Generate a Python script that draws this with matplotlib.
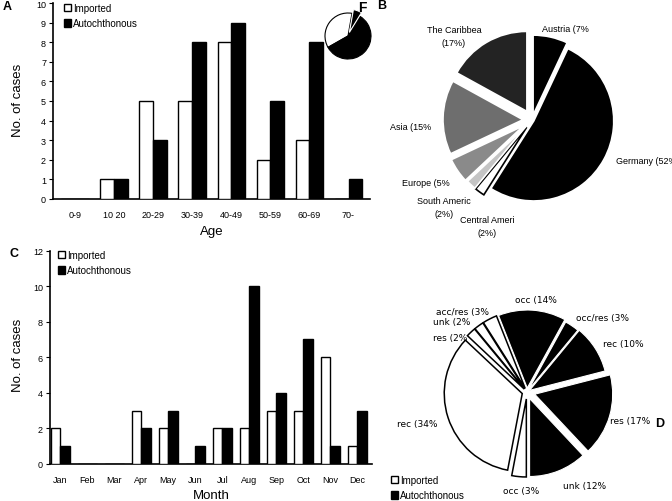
import numpy as np
import matplotlib.pyplot as plt
from matplotlib.patches import Patch

plt.rcParams['font.family'] = ['Liberation Sans', 'DejaVu Sans']

W, H = 672, 502

# panel A: age groups
age_groups = ['0-9', '10 20', '20-29', '30-39', '40-49', '50-59', '60-69', '70-']
age_imported = [0, 1, 5, 5, 8, 2, 3, 0]
age_autoch = [0, 1, 3, 8, 9, 5, 8, 1]

# panel C: months
months = ['Jan', 'Feb', 'Mar', 'Apr', 'May', 'Jun', 'Jul', 'Aug', 'Sep', 'Oct', 'Nov', 'Dec']
month_imported = [2, 0, 0, 3, 2, 0, 2, 2, 3, 3, 6, 1]
month_autoch = [1, 0, 0, 2, 3, 1, 2, 10, 4, 7, 1, 3]

# panel B: origin of infection (clockwise from top)
origin_pct = [7, 52, 2, 2, 5, 15, 17]
origin_colors = ['black', 'black', 'white', '#c4c4c4', '#8a8a8a', '#6e6e6e', '#232323']
origin_labels = ['Austria (7%', 'Germany (52%', 'Central Ameri\n(2%)', 'South Americ\n(2%)',
                 'Europe (5%', 'Asia (15%', 'The Caribbea\n(17%)']

# panel D: route of transmission (counter-clockwise from bottom)
route_pct = [12, 17, 10, 3, 14, 3, 2, 2, 34, 3]
route_colors = ['black'] * 5 + ['white'] * 5
route_labels = ['unk (12%', 'res (17%', 'rec (10%', 'occ/res (3%', 'occ (14%',
                'acc/res (3%', 'unk (2%', 'res (2%', 'rec (34%', 'occ (3%']

# small pie fragment in corner of panel A
frag_pct = [36, 58, 6]
frag_colors = ['white', 'black', 'black']

fig = plt.figure(figsize=(W / 100, H / 100), dpi=100)


def px_axes(x0, y0, x1, y1):
    # y0 = top pixel, y1 = bottom pixel
    return fig.add_axes([x0 / W, 1 - y1 / H, (x1 - x0) / W, (y1 - y0) / H])


def bar_panel(ax, cats, imp, aut, ymax, ystep, xlab, xlim):
    x = np.arange(len(cats))
    w = 0.35
    ax.bar(x - w / 2, imp, w, color='white', edgecolor='black', linewidth=1.0, zorder=3)
    ax.bar(x + w / 2, aut, w, color='black', edgecolor='black', linewidth=1.0, zorder=3)
    ax.set_xlim(*xlim)
    ax.set_ylim(0, ymax)
    ax.set_xticks(x)
    ax.set_xticklabels(cats, fontsize=6.5)
    ax.set_yticks(np.arange(0, ymax + 1, ystep))
    ax.tick_params(axis='y', labelsize=6.5, length=3, width=0.8, pad=2)
    ax.tick_params(axis='x', length=0, pad=8)
    for s in ['top', 'right']:
        ax.spines[s].set_visible(False)
    for s in ['left', 'bottom']:
        ax.spines[s].set_linewidth(1.2)
    ax.set_xlabel(xlab, fontsize=9.5)
    ax.set_ylabel('No. of cases', fontsize=9.5)
    ax.patch.set_alpha(0)


axA = px_axes(53, 4, 370, 200)
bar_panel(axA, age_groups, age_imported, age_autoch, 10, 1, 'Age', (-0.56, 7.55))
axA.xaxis.set_label_coords(0.5, -0.135)
axA.yaxis.set_label_coords(-0.09, 0.51)

axC = px_axes(50, 251.5, 372, 465)
bar_panel(axC, months, month_imported, month_autoch, 12, 2, 'Month', (-0.38, 11.55))
axC.xaxis.set_label_coords(0.5, -0.118)
axC.yaxis.set_label_coords(-0.08, 0.515)

handles = [Patch(facecolor='white', edgecolor='black', linewidth=1.0, label='Imported'),
           Patch(facecolor='black', edgecolor='black', linewidth=1.0, label='Autochthonous')]
leg_kw = dict(frameon=False, fontsize=7, handlelength=0.75, handleheight=0.75,
              handletextpad=0.2, labelspacing=0.55, borderaxespad=0, borderpad=0,
              loc='upper left')
axA.legend(handles=handles, bbox_to_anchor=(64 / W, 1 - 4 / H),
           bbox_transform=fig.transFigure, **leg_kw)
axC.legend(handles=handles, bbox_to_anchor=(58 / W, 1 - 251 / H),
           bbox_transform=fig.transFigure, **leg_kw)

# overlay in pixel coordinates for the pies and labels
ov = fig.add_axes([0, 0, 1, 1])


def Y(p):
    return H - p


# fragment pie in A (explode is in pixels here)
wf, _ = ov.pie(frag_pct, colors=frag_colors, startangle=80, counterclock=True,
               center=(348, Y(37)), radius=23, explode=[0, 0, 4],
               wedgeprops=dict(edgecolor='black', linewidth=0.8))
wf[2].set_edgecolor('white')

# pie B
wb, _ = ov.pie(origin_pct, colors=origin_colors, startangle=90, counterclock=False,
               center=(532, Y(121)), radius=80,
               explode=[5, 2, 9, 9, 10, 9, 10],
               wedgeprops=dict(edgecolor='white', linewidth=1.2))
wb[2].set_edgecolor('black')
wb[2].set_linewidth(1.2)

# pie D
wd, _ = ov.pie(route_pct, colors=route_colors, startangle=270, counterclock=True,
               center=(527, Y(393)), radius=78,
               explode=[7, 8, 3, 2, 4, 4, 4, 4, 5, 7],
               wedgeprops=dict(edgecolor='black', linewidth=1.1))
for w_ in wd[:5]:
    w_.set_edgecolor('white')
    w_.set_linewidth(0.8)

# pie() resets limits, so set pixel frame afterwards
ov.set_xlim(0, W)
ov.set_ylim(0, H)
ov.set_aspect('equal')
ov.axis('off')

ov.text(362, Y(8), 'F', fontsize=10, fontweight='bold', ha='center', va='center')

b_pos = [(542, 30, 'left'), (616, 162, 'left'), (487, 227, 'center'),
         (444, 208, 'center'), (402, 184, 'left'), (390, 127, 'left'), (454, 37, 'center')]
for lab, (x, y, ha) in zip(origin_labels, b_pos):
    ov.text(x, Y(y), lab, fontsize=6.5, ha=ha, va='center', linespacing=1.6)

d_pos = [(563, 487), (610, 422), (603, 345), (576, 318), (515, 300),
         (436, 312), (433, 322), (433, 339), (397, 425), (503, 492)]
for lab, (x, y) in zip(route_labels, d_pos):
    ov.text(x, Y(y), lab, fontsize=6.5, ha='left', va='center', family='DejaVu Sans')

ov.legend(handles=handles, bbox_to_anchor=(391 / W, 1 - 476 / H),
          bbox_transform=fig.transFigure, **leg_kw)

# panel letters
for x, y, t in [(3, 7, 'A'), (382, 6, 'B'), (9, 254, 'C'), (660, 424, 'D')]:
    ov.text(x, Y(y), t, fontsize=9, fontweight='bold', ha='left' if t in 'AC' else 'center',
            va='center')

fig.savefig('out.png', dpi=100)
